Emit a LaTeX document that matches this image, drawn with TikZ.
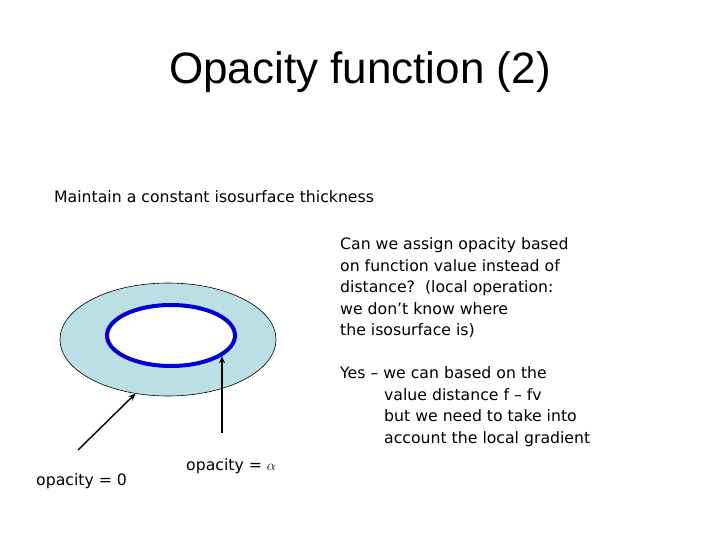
\documentclass[tikz,border=0pt]{standalone}
\usepackage{fontspec}
\setmainfont{DejaVu Sans}
\newfontfamily\titlefont{Liberation Sans}
\usetikzlibrary{shapes.geometric,arrows.meta}
\definecolor{ringfill}{RGB}{187,223,228}
\definecolor{isoblue}{RGB}{0,0,215}
\tikzset{
  body/.style={anchor=base west,inner sep=0pt,font=\fontsize{15.7}{21.5}\selectfont},
  pointer/.style={line width=1.4pt,-{Stealth[length=7pt,width=6pt]}}
}
\begin{document}
\begin{tikzpicture}[x=1pt,y=-1pt]
\useasboundingbox (0,0) rectangle (720,540);
\node[anchor=base,inner sep=0pt,font=\titlefont\fontsize{44}{48}\selectfont] (title) at (360,84) {Opacity function (2)};
\node[body] (maint) at (54,203) {Maintain a constant isosurface thickness};
\node[body] (q1) at (340,249.5) {Can we assign opacity based};
\node[body] (q2) at (340,271) {on function value instead of};
\node[body] (q3) at (340,292.5) {distance?\ \ (local operation:};
\node[body] (q4) at (340,314) {we don’t know where};
\node[body] (q5) at (340,335.5) {the isosurface is)};
\node[body] (y1) at (340,378.5) {Yes – we can based on the};
\node[body] (y2) at (384,400) {value distance f – fv};
\node[body] (y3) at (384,421.5) {but we need to take into};
\node[body] (y4) at (384,443) {account the local gradient};
\node[ellipse,draw=black,line width=0.6pt,fill=ringfill,minimum width=216pt,minimum height=113pt,inner sep=0pt] (outer) at (168,339.5) {};
\node[ellipse,draw=isoblue,line width=4pt,fill=white,minimum width=128pt,minimum height=61pt,inner sep=0pt] (inner) at (171,335.5) {};
\node[body] (op0) at (36,485) {opacity = 0};
\node[body] (opa) at (186,470) {opacity = $\alpha$};
\coordinate (t1) at (78,450);
\coordinate (t2) at (222,433);
\draw[pointer] (t1) -- (outer.-121);
\draw[pointer] (t2) -- (t2 |- inner.-22);
\end{tikzpicture}
\end{document}
